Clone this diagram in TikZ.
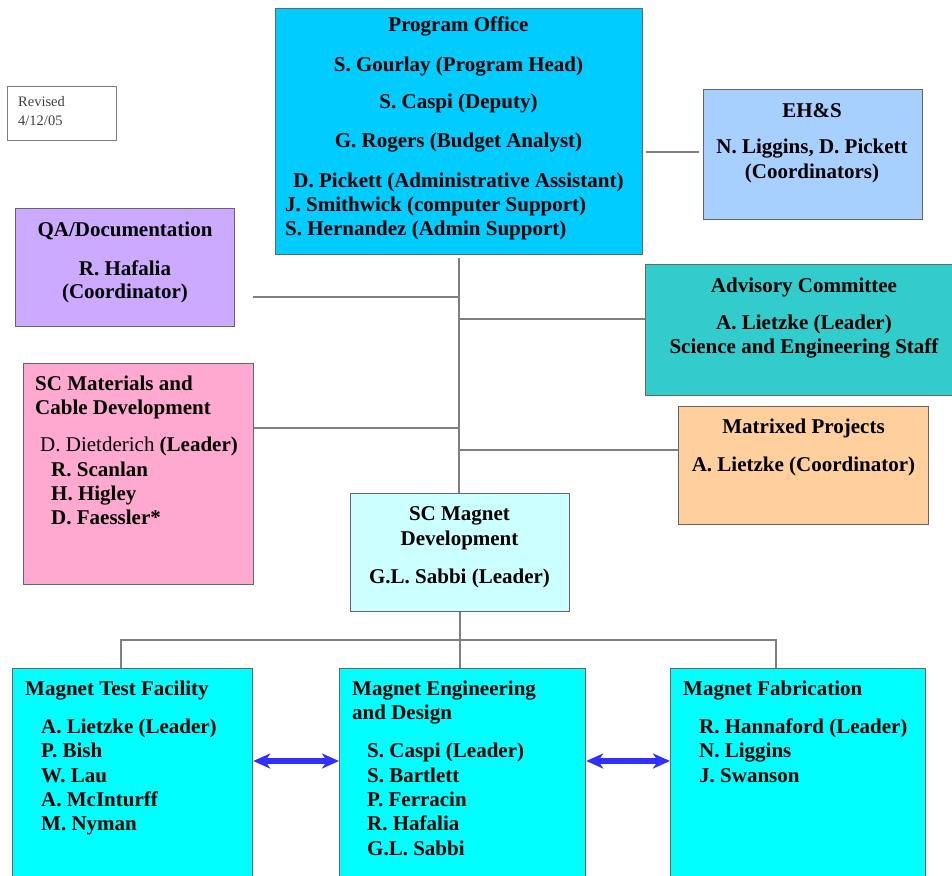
\documentclass[tikz,border=0pt]{standalone}
\usepackage{fontspec}
\setmainfont{Liberation Serif}
\usetikzlibrary{arrows.meta}

\definecolor{poblue}{HTML}{00CCFF}
\definecolor{ehsblue}{HTML}{A8D0FF}
\definecolor{qalilac}{HTML}{CCAAFF}
\definecolor{advteal}{HTML}{33CCCC}
\definecolor{matpink}{HTML}{FFA8D0}
\definecolor{projpeach}{HTML}{FFCF9E}
\definecolor{smdcyan}{HTML}{CCFFFF}
\definecolor{teamcyan}{HTML}{00FFFF}
\definecolor{arrowblue}{HTML}{3030FF}

\begin{document}
\begin{tikzpicture}
        [%%%%%%%%%%%%%%%%%%%%%%%%%%%%%%
        x=1pt, y=-1pt,
        box/.style={rectangle,draw=black!60,line width=1.2pt,anchor=north west,inner sep=0pt},
        txt/.style={inner sep=0pt,anchor=north,align=center,font=\bfseries\fontsize{21}{24.4}\selectfont},
        ltxt/.style={txt,anchor=north west,align=left},
        link/.style={draw=black!50,line width=1.5pt},
        twoway/.style={draw=arrowblue,line width=5.5pt,
          {Stealth[length=17pt,width=15pt,inset=5pt]}-{Stealth[length=17pt,width=15pt,inset=5pt]}},
        ]%%%%%%%%%%%%%%%%%%%%%%%%%%%%%%

        \useasboundingbox (0,0) rectangle (952,875);

        % boxes
        \node[box,fill=poblue,minimum width=367,minimum height=246] (po) at (275,8) {};
        \node[box,fill=ehsblue,minimum width=219,minimum height=130] (ehs) at (703,89) {};
        \node[box,fill=qalilac,minimum width=219,minimum height=118] (qa) at (15,208) {};
        \node[box,fill=advteal,minimum width=310,minimum height=131] (adv) at (645,264) {};
        \node[box,fill=matpink,minimum width=230,minimum height=221] (smat) at (23,363) {};
        \node[box,fill=projpeach,minimum width=250,minimum height=118] (mproj) at (678,406) {};
        \node[box,fill=smdcyan,minimum width=219,minimum height=118] (smd) at (350,493) {};
        \node[box,fill=teamcyan,minimum width=240,minimum height=215] (mtf) at (12,668) {};
        \node[box,fill=teamcyan,minimum width=246,minimum height=215] (med) at (339,668) {};
        \node[box,fill=teamcyan,minimum width=255,minimum height=215] (mfab) at (670,668) {};
        \node[box,draw=black!50,fill=white,line width=1pt,minimum width=109,minimum height=54] (rev) at (7,86) {};

        % texts
        \node[anchor=north west,inner sep=0pt,align=left,text=black!75,
          font=\fontsize{14.5}{19}\selectfont] (rev-t) at (18,96) {Revised\\4/12/05};
        \node[txt] (po-t) at (458.5,16.5) {Program Office\\[15.6pt]
          S. Gourlay (Program Head)\\[12.6pt]
          S. Caspi (Deputy)\\[14.6pt]
          G. Rogers (Budget Analyst)\\[15.6pt]
          D. Pickett (Administrative Assistant)};
        \node[ltxt] (po-s) at (285,196.5) {J. Smithwick (computer Support)\\
          S. Hernandez (Admin Support)};
        \node[txt] (ehs-t) at (812,103.5) {EH\&S\\[11.6pt] N. Liggins, D. Pickett\\ (Coordinators)};
        \node[txt] (qa-t) at (125,221.5) {QA/Documentation\\[14.6pt] R. Hafalia\\[-1.4pt] (Coordinator)};
        \node[txt] (adv-t) at (804,277.5) {Advisory Committee\\[12.6pt] A. Lietzke (Leader)\\
          Science and Engineering Staff};
        \node[txt] (mproj-t) at (803.5,418.5) {Matrixed Projects\\[13.6pt] A. Lietzke (Coordinator)};
        \node[txt] (smd-t) at (459.5,506.5) {SC Magnet\\ Development\\[13.6pt] G.L. Sabbi (Leader)};
        \node[ltxt] (smat-t) at (35,375.5) {SC Materials and\\ Cable Development\\[12.6pt]
          \hspace*{5pt}\textmd{D. Dietderich} (Leader)\\
          \hspace*{16pt}R. Scanlan\\
          \hspace*{16pt}H. Higley\\
          \hspace*{16pt}D. Faessler*};
        \node[ltxt] (mtf-t) at (25,680.5) {Magnet Test Facility\\[13.6pt]
          \hspace*{16pt}A. Lietzke (Leader)\\
          \hspace*{16pt}P. Bish\\
          \hspace*{16pt}W. Lau\\
          \hspace*{16pt}A. McInturff\\
          \hspace*{16pt}M. Nyman};
        \node[ltxt] (med-t) at (352,680.5) {Magnet Engineering\\ and Design\\[13.6pt]
          \hspace*{15pt}S. Caspi (Leader)\\
          \hspace*{15pt}S. Bartlett\\
          \hspace*{15pt}P. Ferracin\\
          \hspace*{15pt}R. Hafalia\\
          \hspace*{15pt}G.L. Sabbi};
        \node[ltxt] (mfab-t) at (683,680.5) {Magnet Fabrication\\[13.6pt]
          \hspace*{16pt}R. Hannaford (Leader)\\
          \hspace*{16pt}N. Liggins\\
          \hspace*{16pt}J. Swanson};

        % connectors
        \coordinate (qa-end) at (253,297);
        \coordinate (ehs-in) at ([yshift=-63pt]ehs.north west);
        \coordinate (adv-in) at ([yshift=-55pt]adv.north west);
        \coordinate (smat-in) at ([yshift=-65pt]smat.north east);
        \coordinate (mproj-in) at ([yshift=-44pt]mproj.north west);
        \coordinate (mtf-in) at (121,668);
        \coordinate (mfab-in) at (776,668);

        \draw[link,shorten <=3pt] (po.south) -- (po.south |- smd.north);
        \draw[link,shorten <=4pt,shorten >=3pt] (ehs-in) -- (ehs-in -| po.east);
        \draw[link] (qa-end) -- (qa-end -| po.south);
        \draw[link] (adv-in) -- (adv-in -| po.south);
        \draw[link] (smat-in) -- (smat-in -| po.south);
        \draw[link] (mproj-in) -- (mproj-in -| po.south);
        \draw[link] (smd.south) -- (smd.south |- med.north);
        \draw[link] (mtf-in) -- ++(0,-28) -| (mfab-in);

        \draw[twoway] ([yshift=-93pt]mtf.north east) -- ([yshift=-93pt]med.north west);
        \draw[twoway] ([yshift=-93pt]med.north east) -- ([yshift=-93pt]mfab.north west);

      \end{tikzpicture}
\end{document}
